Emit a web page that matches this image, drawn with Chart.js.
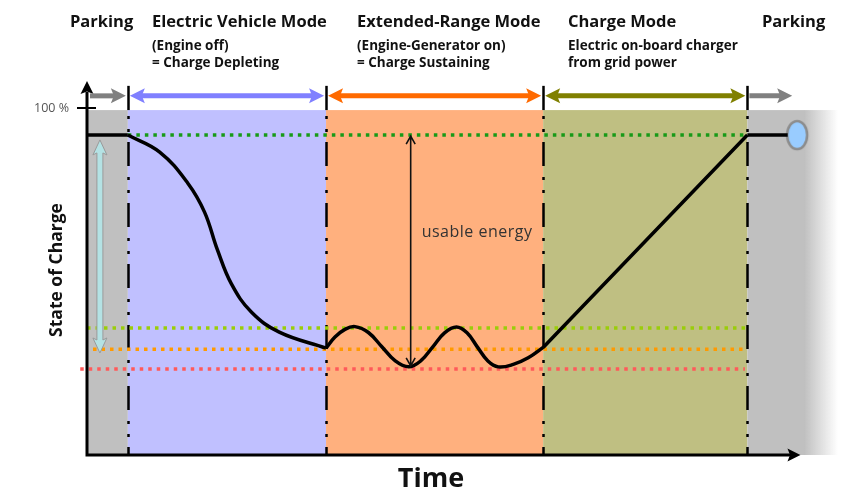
<!DOCTYPE html>
<html>
<head>
<meta charset="utf-8">
<script src="https://cdn.jsdelivr.net/npm/chart.js@4"></script>
<style>
  html, body { margin: 0; padding: 0; background: #fff; }
  canvas { display: block; }
</style>
</head>
<body>
<canvas id="myChart" width="852" height="497"></canvas>
<script>
// Time runs 0..100 across the plot, state of charge in % (100 = full)
const phaseBounds = [0, 5.44, 31.83, 60.74, 87.93, 100];
const phaseTitles = ['Parking', 'Electric Vehicle Mode', 'Extended-Range Mode', 'Charge Mode', 'Parking'];
const phaseNotes = [
    [],
    ['(Engine off)', '= Charge Depleting'],
    ['(Engine-Generator on)', '= Charge Sustaining'],
    ['Electric on-board charger', 'from grid power'],
    []
];

// SOC curve, piece by piece
const parkStartTime = [0, 5.44];
const parkStartSoc = [92.2, 92.2];
const evTime = [5.44, 9.68, 13.40, 15.65, 17.37, 19.23, 21.88, 25.60, 31.83];
const evSoc = [92.2, 87.3, 78.4, 70.0, 59.1, 49.3, 41.2, 35.4, 30.8];
const erTime = [31.83, 33.02, 34.35, 35.68, 37.47, 39.26, 41.05, 42.84, 44.43, 46.02, 47.61, 49.20, 50.60, 51.99, 53.38, 54.77, 56.76, 58.75, 60.74];
const erSoc = [30.8, 34.0, 36.2, 37.0, 35.3, 31.2, 27.1, 25.4, 27.1, 31.1, 35.2, 36.9, 35.2, 31.1, 27.1, 25.4, 26.1, 28.0, 31.0];
const chargeTime = [60.74, 87.93];
const chargeSoc = [31.0, 92.2];
const parkEndTime = [87.93, 93.3];
const parkEndSoc = [92.2, 92.2];
const plugTime = 94.56;

// dotted SOC levels: [soc, from, to]
const levelMax = [92.2, 5.44, 87.93];
const levelHigh = [36.6, 0, 87.93];
const levelSustain = [30.5, 0.8, 87.93];
const levelMin = [24.8, -0.9, 87.6];

// arrows
const usableTime = 43.1;
const usableSoc = [92.2, 25.4];
const windowTime = 1.72;
const windowSoc = [90.8, 29.4];
const bandSoc = 103.5;
const parkEndArrowTo = 93.9;
const shadeTop = 99.4;

const phaseFill = ['#c0c0c0', '#c0c0ff', '#ffb07e', '#bfbf82', '#c0c0c0'];
const phaseArrow = ['#808080', '#8080ff', '#ff6a00', '#808000', '#808080'];

function pts(xs, ys) {
    return xs.map((x, i) => ({ x: x, y: ys[i] }));
}

function level(l) {
    return [{ x: l[1], y: l[0] }, { x: l[2], y: l[0] }];
}

// the blue plug marker at the end of the curve
const plug = document.createElement('canvas');
plug.width = 26; plug.height = 34;
(function () {
    const c = plug.getContext('2d');
    c.beginPath();
    c.ellipse(13, 17, 10, 14, 0, 0, Math.PI * 2);
    c.fillStyle = '#99ccff';
    c.fill();
    c.lineWidth = 2.5;
    c.strokeStyle = '#8c8c8c';
    c.stroke();
})();

function arrowHead(ctx, x, y, dir, len, half, color) {
    // dir: angle of the tip direction
    ctx.save();
    ctx.translate(x, y);
    ctx.rotate(dir);
    ctx.beginPath();
    ctx.moveTo(0, 0);
    ctx.lineTo(-len, -half);
    ctx.lineTo(-len * 0.8, 0);
    ctx.lineTo(-len, half);
    ctx.closePath();
    ctx.fillStyle = color;
    ctx.fill();
    ctx.restore();
}

function bandArrow(ctx, x1, x2, y, color, both) {
    ctx.strokeStyle = color;
    ctx.lineWidth = 5;
    ctx.beginPath();
    ctx.moveTo(x1 + (both ? 8 : 0), y);
    ctx.lineTo(x2 - 8, y);
    ctx.stroke();
    arrowHead(ctx, x2, y, 0, 15, 7.5, color);
    if (both) arrowHead(ctx, x1, y, Math.PI, 15, 7.5, color);
}

const decor = {
    id: 'decor',
    beforeDatasetsDraw(chart) {
        const ctx = chart.ctx;
        const xs = chart.scales.x, ys = chart.scales.y;
        const top = ys.getPixelForValue(shadeTop);
        const bottom = ys.getPixelForValue(0);
        ctx.save();
        // phase backgrounds
        for (let i = 0; i < phaseFill.length; i++) {
            const a = xs.getPixelForValue(phaseBounds[i]);
            const b = xs.getPixelForValue(phaseBounds[i + 1]);
            if (i === phaseFill.length - 1) {
                const g = ctx.createLinearGradient(a, 0, b, 0);
                g.addColorStop(0, '#c0c0c0');
                g.addColorStop(0.63, '#c0c0c0');
                g.addColorStop(1, 'rgba(192,192,192,0)');
                ctx.fillStyle = g;
            } else {
                ctx.fillStyle = phaseFill[i];
            }
            ctx.fillRect(a, top, b - a, bottom - top);
        }
        // dash-dot separators
        ctx.strokeStyle = '#000';
        for (let i = 1; i < phaseBounds.length - 1; i++) {
            const x = Math.round(xs.getPixelForValue(phaseBounds[i])) + 0.5;
            ctx.lineWidth = 2.5;
            ctx.setLineDash([]);
            ctx.beginPath();
            ctx.moveTo(x, ys.getPixelForValue(bandSoc) - 10);
            ctx.lineTo(x, top);
            ctx.stroke();
            ctx.setLineDash([3, 10, 3, 10, 24, 11]);
            ctx.beginPath();
            ctx.moveTo(x, top + 6);
            ctx.lineTo(x, bottom);
            ctx.stroke();
        }
        ctx.restore();
    },
    afterDatasetsDraw(chart) {
        const ctx = chart.ctx;
        const xs = chart.scales.x, ys = chart.scales.y;
        const x0 = xs.getPixelForValue(0);
        const y0 = ys.getPixelForValue(0);
        ctx.save();

        // axes
        ctx.strokeStyle = '#000';
        ctx.lineWidth = 3;
        ctx.beginPath();
        ctx.moveTo(x0, y0);
        ctx.lineTo(x0, 92);
        ctx.moveTo(x0 - 1.5, y0);
        ctx.lineTo(xs.getPixelForValue(95) - 10, y0);
        ctx.stroke();
        arrowHead(ctx, x0, 81, -Math.PI / 2, 13, 6.5, '#000');
        arrowHead(ctx, xs.getPixelForValue(95), y0, 0, 13, 6.5, '#000');
        const y100 = ys.getPixelForValue(100);
        ctx.lineWidth = 2;
        ctx.beginPath();
        ctx.moveTo(x0 - 10, y100);
        ctx.lineTo(x0 + 9, y100);
        ctx.stroke();

        // mode arrows along the top
        const yb = ys.getPixelForValue(bandSoc);
        const n = phaseBounds.length - 1;
        for (let i = 0; i < n; i++) {
            const a = xs.getPixelForValue(phaseBounds[i]) + (i === 0 ? 3 : 2);
            const b = i === n - 1 ? xs.getPixelForValue(parkEndArrowTo) : xs.getPixelForValue(phaseBounds[i + 1]) - 2;
            bandArrow(ctx, a, b, yb, phaseArrow[i], i > 0 && i < n - 1);
        }

        // light teal usable-window arrow
        const wx = xs.getPixelForValue(windowTime);
        const wt = ys.getPixelForValue(windowSoc[0]);
        const wb = ys.getPixelForValue(windowSoc[1]);
        ctx.beginPath();
        ctx.moveTo(wx, wt);
        ctx.lineTo(wx + 7, wt + 15);
        ctx.lineTo(wx + 3, wt + 13);
        ctx.lineTo(wx + 3, wb - 13);
        ctx.lineTo(wx + 7, wb - 15);
        ctx.lineTo(wx, wb);
        ctx.lineTo(wx - 7, wb - 15);
        ctx.lineTo(wx - 3, wb - 13);
        ctx.lineTo(wx - 3, wt + 13);
        ctx.lineTo(wx - 7, wt + 15);
        ctx.closePath();
        ctx.fillStyle = '#b4e2e4';
        ctx.fill();
        ctx.strokeStyle = '#9a9a9a';
        ctx.lineWidth = 1;
        ctx.stroke();

        // usable energy arrow
        const ux = xs.getPixelForValue(usableTime);
        const ut = ys.getPixelForValue(usableSoc[0]);
        const ub = ys.getPixelForValue(usableSoc[1]);
        ctx.strokeStyle = '#111';
        ctx.lineWidth = 1.6;
        ctx.beginPath();
        ctx.moveTo(ux, ut + 1);
        ctx.lineTo(ux, ub - 1);
        ctx.moveTo(ux - 4.5, ut + 9);
        ctx.lineTo(ux, ut + 1);
        ctx.lineTo(ux + 4.5, ut + 9);
        ctx.moveTo(ux - 4.5, ub - 9);
        ctx.lineTo(ux, ub - 1);
        ctx.lineTo(ux + 4.5, ub - 9);
        ctx.stroke();

        // texts
        ctx.fillStyle = '#333';
        ctx.font = '16px "Open Sans"';
        ctx.letterSpacing = '0.5px';
        ctx.textAlign = 'left';
        ctx.textBaseline = 'middle';
        ctx.fillText('usable energy', ux + 11, 232);
        ctx.letterSpacing = '0px';

        ctx.fillStyle = '#555';
        ctx.font = '12.5px "Open Sans"';
        ctx.textAlign = 'right';
        ctx.fillText('100 %', x0 - 18, y100);

        ctx.fillStyle = '#111';
        const titleX = [70, 152, 357, 568, 762];
        ctx.textAlign = 'left';
        for (let i = 0; i < phaseTitles.length; i++) {
            ctx.font = 'bold 16.5px "Open Sans"';
            ctx.fillText(phaseTitles[i], titleX[i], 22);
            ctx.font = 'bold 13.5px "Open Sans"';
            phaseNotes[i].forEach((t, j) => ctx.fillText(t, titleX[i], 46 + j * 17));
        }

        ctx.font = 'bold 27px "Open Sans"';
        ctx.textAlign = 'center';
        ctx.fillText('Time', 431, 479);

        ctx.translate(57, 270);
        ctx.rotate(-Math.PI / 2);
        ctx.font = 'bold 17.5px "Open Sans"';
        ctx.fillText('State of Charge', 0, 0);
        ctx.restore();
    }
};

const curve = { borderColor: '#000', borderWidth: 3.5, pointRadius: 0, order: 0, clip: false, tension: 0.4, borderJoinStyle: 'round' };
const dotted = { borderWidth: 3.5, borderDash: [3.5, 5], pointRadius: 0, order: 2, clip: false, borderCapStyle: 'butt' };

const config = {
    type: 'line',
    data: {
        datasets: [
            { ...curve, data: pts(parkStartTime, parkStartSoc) },
            { ...curve, data: pts(evTime, evSoc) },
            { ...curve, data: pts(erTime, erSoc) },
            { ...curve, data: pts(chargeTime, chargeSoc) },
            { ...curve, data: pts(parkEndTime, parkEndSoc) },
            { data: [{ x: plugTime, y: parkEndSoc[1] }], showLine: false, pointStyle: plug, pointRadius: 13, order: 0, clip: false },
            { ...dotted, borderColor: '#189a18', data: level(levelMax) },
            { ...dotted, borderColor: '#9acd0a', data: level(levelHigh) },
            { ...dotted, borderColor: '#ff9a00', data: level(levelSustain) },
            { ...dotted, borderColor: '#ff5a5a', data: level(levelMin) }
        ]
    },
    options: {
        responsive: false,
        animation: false,
        devicePixelRatio: 1,
        layout: { padding: { left: 87, right: 11, top: 108, bottom: 42 } },
        scales: {
            x: { type: 'linear', min: 0, max: 100, display: false },
            y: { min: 0, max: 100, display: false }
        },
        plugins: {
            legend: { display: false },
            tooltip: { enabled: false }
        }
    },
    plugins: [decor]
};

const myChart = new Chart(document.getElementById('myChart'), config);
</script>
</body>
</html>
